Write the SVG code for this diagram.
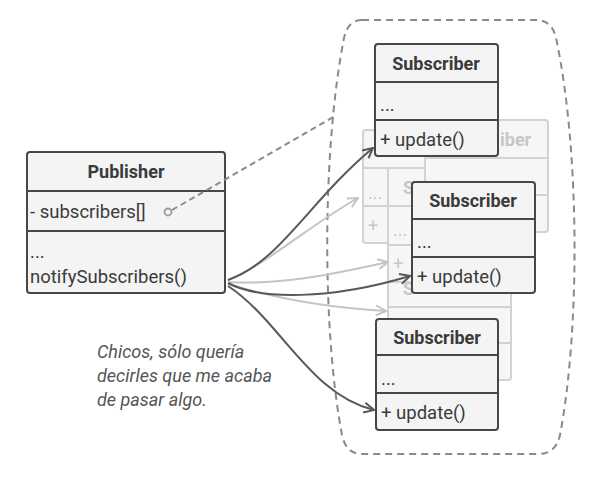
<svg xmlns="http://www.w3.org/2000/svg" width="601" height="482" viewBox="0 0 601 482">
<style>
.box{fill:#f4f4f4;stroke:#474747;stroke-width:2}
.sep{stroke:#474747;stroke-width:2}
.fbox{fill:#f6f6f6;stroke:#d2d2d2;stroke-width:2}
.fsep{stroke:#d2d2d2;stroke-width:2}
.t{font-family:Roboto,"Noto Sans",sans-serif;font-size:18.5px;fill:#3a3a3a}
.h{font-weight:bold;text-anchor:middle;font-size:18px}
.ft{font-family:Roboto,"Noto Sans",sans-serif;font-size:18px;fill:#c6c6c6}
.fb{font-weight:bold}
.dark{fill:none;stroke:#585858;stroke-width:2;marker-end:url(#ad)}
.light{fill:none;stroke:#c4c4c4;stroke-width:2;marker-end:url(#al)}
.note{font-family:Roboto,"Noto Sans",sans-serif;font-size:18px;font-style:italic;fill:#555}
</style>
<defs>
<marker id="ad" viewBox="0 0 12 12" refX="11" refY="6" markerWidth="12" markerHeight="12" markerUnits="userSpaceOnUse" orient="auto">
<path d="M1,1 L11,6 L1,11" fill="none" stroke="#585858" stroke-width="2"/>
</marker>
<marker id="al" viewBox="0 0 12 12" refX="11" refY="6" markerWidth="12" markerHeight="12" markerUnits="userSpaceOnUse" orient="auto">
<path d="M1,1 L11,6 L1,11" fill="none" stroke="#c4c4c4" stroke-width="2"/>
</marker>
<clipPath id="ce" clipPathUnits="userSpaceOnUse"><rect x="388" y="282" width="24" height="26"/></clipPath>
</defs>
<rect width="601" height="482" fill="#ffffff"/>
<g id="container">
<path d="M362,20 L536,20 Q552,20 556,38 C580,150 580,330 560,435 Q556,454 538,454 L362,454 Q346,454 342,435 C322,330 322,150 344,38 Q348,20 362,20 Z" fill="none" stroke="#8a8a8a" stroke-width="2" stroke-dasharray="7,5"/>
</g>
<g id="faded-subscribers">
<g id="sub-b">
<rect class="fbox" x="363" y="130" width="123" height="113" rx="3"/>
<line class="fsep" x1="363" y1="168" x2="486" y2="168"/>
<line class="fsep" x1="363" y1="206" x2="486" y2="206"/>
<text class="ft" x="368" y="199">...</text>
<text class="ft" x="368" y="232">+</text>
</g>
<g id="sub-e">
<rect class="fbox" x="388" y="269" width="123" height="111" rx="3"/>
<line class="fsep" x1="388" y1="307" x2="511" y2="307"/>
<line class="fsep" x1="388" y1="343" x2="511" y2="343"/>
<g clip-path="url(#ce)"><text class="ft fb" x="403" y="295">S</text></g>
</g>
<g id="sub-d">
<rect class="fbox" x="388" y="168" width="123" height="114" rx="3"/>
<line class="fsep" x1="388" y1="206" x2="511" y2="206"/>
<line class="fsep" x1="388" y1="245" x2="511" y2="245"/>
<text class="ft fb" x="403" y="194">S</text>
<text class="ft" x="393" y="236">...</text>
<text class="ft" x="393" y="270">+</text>
</g>
<g id="sub-c">
<rect class="fbox" x="425" y="120" width="123" height="112" rx="3"/>
<line class="fsep" x1="425" y1="158" x2="548" y2="158"/>
<line class="fsep" x1="425" y1="195" x2="548" y2="195"/>
<text class="ft fb" x="500" y="146">iber</text>
</g>
</g>
<g id="publisher">
<rect class="box" x="27" y="152" width="198" height="141" rx="3"/>
<line class="sep" x1="27" y1="191" x2="225" y2="191"/>
<line class="sep" x1="27" y1="231" x2="225" y2="231"/>
<text class="t h" x="126" y="178">Publisher</text>
<text class="t" x="30" y="218">- subscribers[]</text>
<circle cx="168" cy="212" r="3.5" fill="none" stroke="#9a9a9a" stroke-width="1.8"/>
<text class="t" x="30" y="258">...</text>
<text class="t" x="30" y="283">notifySubscribers()</text>
</g>
<g id="connectors">
<path d="M172,210 L335,116" fill="none" stroke="#8a8a8a" stroke-width="2" stroke-dasharray="6,4"/>
<path class="light" d="M228,280 C270,262 310,225 358,198"/>
<path class="light" d="M228,282 C280,285 330,275 388,262"/>
<path class="light" d="M228,284 C280,300 330,308 386,311"/>
<path class="dark" d="M228,280 C280,262 310,200 373,148"/>
<path class="dark" d="M228,283 C260,300 330,300 410,276"/>
<path class="dark" d="M228,286 C280,320 310,395 374,410"/>
</g>
<g id="subscriber-top">
<rect class="box" x="375" y="44" width="123" height="112" rx="3"/>
<line class="sep" x1="375" y1="82" x2="498" y2="82"/>
<line class="sep" x1="375" y1="120" x2="498" y2="120"/>
<text class="t h" x="436" y="70">Subscriber</text>
<text class="t" x="380" y="111">...</text>
<text class="t" x="380" y="146">+ update()</text>
</g>
<g id="subscriber-middle">
<rect class="box" x="412" y="182" width="123" height="111" rx="3"/>
<line class="sep" x1="412" y1="219" x2="535" y2="219"/>
<line class="sep" x1="412" y1="257" x2="535" y2="257"/>
<text class="t h" x="473" y="207">Subscriber</text>
<text class="t" x="417" y="248">...</text>
<text class="t" x="417" y="283">+ update()</text>
</g>
<g id="subscriber-bottom">
<rect class="box" x="376" y="319" width="122" height="111" rx="3"/>
<line class="sep" x1="376" y1="355" x2="498" y2="355"/>
<line class="sep" x1="376" y1="393" x2="498" y2="393"/>
<text class="t h" x="437" y="344">Subscriber</text>
<text class="t" x="381" y="385">...</text>
<text class="t" x="381" y="419">+ update()</text>
</g>
<g id="note">
<text class="note" x="97" y="358">Chicos, sólo quería</text>
<text class="note" x="97" y="382">decirles que me acaba</text>
<text class="note" x="97" y="406">de pasar algo.</text>
</g>
</svg>
